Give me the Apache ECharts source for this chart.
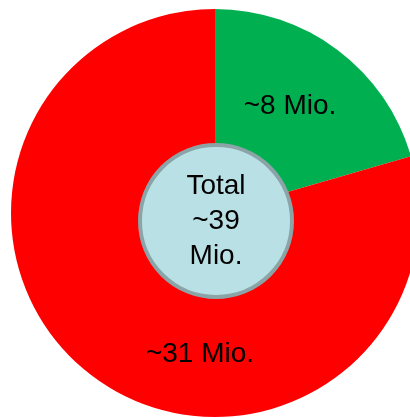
<!DOCTYPE html>
<html>
<head>
<meta charset="utf-8">
<script src="https://cdn.jsdelivr.net/npm/echarts@6/dist/echarts.min.js"></script>
<style>
  html, body { margin: 0; padding: 0; background: #fff; }
  #main { width: 410px; height: 418px; }
</style>
</head>
<body>
<div id="main"></div>
<script>
// Data
const segmentNames = ["Neu", "Bestand"];
const segmentValues = [8, 31];
const segmentLabels = ["~8 Mio.", "~31 Mio."];
const segmentColors = ["#00B050", "#FF0000"];
const totalLabel = "Total\n~39\nMio.";

// where the slice labels sit (pixels)
const labelSpots = [[290, 106], [200, 354]];

const chart = echarts.init(document.getElementById("main"));

chart.setOption({
  animation: false,
  series: [
    {
      type: "pie",
      center: [215, 213],
      radius: [0, 204],
      startAngle: 90,
      clockwise: true,
      silent: true,
      itemStyle: { borderWidth: 0 },
      label: {
        show: true,
        position: "inside",
        formatter: (p) => segmentLabels[p.dataIndex],
        color: "#000",
        fontFamily: "Liberation Sans, Arial, sans-serif",
        fontSize: 28
      },
      labelLine: { show: false },
      labelLayout: (p) => ({
        x: labelSpots[p.dataIndex][0],
        y: labelSpots[p.dataIndex][1],
        align: "center",
        verticalAlign: "middle"
      }),
      data: segmentNames.map((n, i) => ({
        name: n,
        value: segmentValues[i],
        itemStyle: { color: segmentColors[i] }
      }))
    },
    {
      // inner total circle
      type: "pie",
      center: [216, 221],
      radius: [0, 76],
      silent: true,
      itemStyle: {
        color: "#B9E0E4",
        borderColor: "#8AA4A8",
        borderWidth: 4
      },
      label: {
        show: true,
        position: "center",
        formatter: totalLabel,
        color: "#000",
        fontFamily: "Liberation Sans, Arial, sans-serif",
        fontSize: 28,
        lineHeight: 35
      },
      labelLine: { show: false },
      data: [{ name: "Total", value: segmentValues[0] + segmentValues[1] }]
    }
  ]
});
</script>
</body>
</html>
